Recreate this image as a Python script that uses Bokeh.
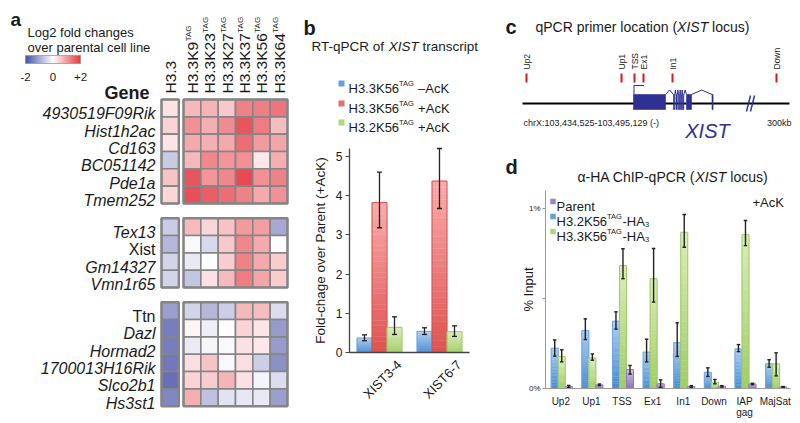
import math
import numpy as np
from bokeh.plotting import figure
from bokeh.models import Range1d, LinearColorMapper, FixedTicker, ColumnDataSource, LinearAxis
from bokeh.core.properties import value
from bokeh.embed import file_html
from bokeh.resources import INLINE

FONT = "Liberation Sans"
INK = "#1a1a1a"
NAVY = "#2e3192"

# ---------------- Panel a data ----------------
genes = ["4930519F09Rik", "Hist1h2ac", "Cd163", "BC051142", "Pde1a", "Tmem252",
         "Tex13", "Xist", "Gm14327", "Vmn1r65",
         "Ttn", "Dazl", "Hormad2", "1700013H16Rik", "Slco2b1", "Hs3st1"]
gene_group = [0, 0, 0, 0, 0, 0, 1, 1, 1, 1, 2, 2, 2, 2, 2, 2]
gene_italic = [True, True, True, True, True, True, True, False, True, True,
               False, True, True, True, True, True]
col_names = ["H3.3", "H3.3K9", "H3.3K23", "H3.3K27", "H3.3K37", "H3.3K56", "H3.3K64"]
col_sups = ["", "TAG", "TAG", "TAG", "TAG", "TAG", "TAG"]
h33 = [0.24, 0.39, 0.23, -0.51, 0.52, 0.35, -0.50, -0.70, -0.42, -0.42, -0.93, -1.26, -1.26, -1.30, -1.40, -1.16]
k9 = [0.61, 0.96, 0.74, 0.61, 1.48, 1.52, 0.60, -0.05, -0.21, -0.56, -0.42, 0.09, -0.19, 0.29, 0.39, 0.70]
k23 = [0.65, 0.70, 0.70, 1.04, 0.91, 1.39, 0.35, -0.37, -0.03, 0.26, -0.70, -0.16, -0.09, 0.52, 0.43, -0.60]
k27 = [0.48, 1.00, 0.74, 0.91, 1.04, 1.26, 0.52, 0.48, 0.43, 0.60, -0.47, 0.00, -0.05, -0.05, 0.65, -0.28]
k37 = [1.09, 1.48, 1.26, 0.96, 1.57, 1.09, 0.87, 1.04, 1.09, 1.13, 0.61, 0.39, 0.26, 0.29, 0.26, -0.23]
k56 = [1.10, 1.13, 0.87, 0.20, 0.96, 0.74, 0.83, 0.74, 0.74, 0.78, 0.57, 0.22, 0.20, -0.47, -0.10, -0.21]
k64 = [1.20, 0.57, 0.78, 0.70, 1.09, 0.96, -0.84, -0.02, 0.43, 0.43, -0.33, -0.98, -0.98, -1.07, -0.33, -0.93]
scale_ticks = [-2, 0, 2]
scale_labels = ["-2", "0", "+2"]

# ---------------- Panel b data ----------------
b_cats = ["XIST3-4", "XIST6-7"]
b_series_main = ["H3.3K56", "H3.3K56", "H3.2K56"]
b_series_tail = [" \u2013AcK", " +AcK", " +AcK"]
b_minus_mean = [0.37, 0.54]
b_minus_lo = [0.30, 0.46]
b_minus_hi = [0.45, 0.63]
b_h33_mean = [3.82, 4.37]
b_h33_lo = [3.18, 3.67]
b_h33_hi = [4.60, 5.20]
b_h32_mean = [0.64, 0.53]
b_h32_lo = [0.46, 0.41]
b_h32_hi = [0.91, 0.68]
b_yticks = [0, 1, 2, 3, 4, 5]

# ---------------- Panel c data ----------------
primer_names = ["Up2", "Up1", "TSS", "Ex1", "In1", "Down"]
primer_pos = [526, 621, 634, 643, 672, 776]
locus_start, locus_end = 522, 789
exon_starts = [633, 673, 675.5, 678, 680, 682, 686, 711.5]
exon_ends = [665, 674.3, 676.8, 679.3, 681.3, 683.3, 691, 712.6]

# ---------------- Panel d data ----------------
d_cats = ["Up2", "Up1", "TSS", "Ex1", "In1", "Down", "IAP\ngag", "MajSat"]
d_h32_mean = [0.224, 0.322, 0.374, 0.202, 0.254, 0.090, 0.220, 0.137]
d_h32_lo = [0.180, 0.272, 0.330, 0.148, 0.178, 0.067, 0.205, 0.118]
d_h32_hi = [0.270, 0.387, 0.426, 0.274, 0.365, 0.115, 0.244, 0.160]
d_h33_mean = [0.178, 0.170, 0.683, 0.610, 0.868, 0.035, 0.855, 0.137]
d_h33_lo = [0.148, 0.157, 0.610, 0.480, 0.785, 0.026, 0.794, 0.070]
d_h33_hi = [0.215, 0.192, 0.776, 0.778, 0.967, 0.050, 0.933, 0.198]
d_par_mean = [0.010, 0.020, 0.105, 0.026, 0.011, 0.012, 0.025, 0.008]
d_par_lo = [0.005, 0.016, 0.080, 0.007, 0.006, 0.008, 0.021, 0.005]
d_par_hi = [0.017, 0.025, 0.128, 0.048, 0.016, 0.016, 0.029, 0.011]
d_yticks = [0, 0.5, 1]
d_ylabels = ["0%", " ", "1%"]

# ---------------- helpers ----------------
_W = {c: 556 for c in "0123456789"}
_W.update({' ': 278, '-': 333, '.': 278, ',': 278, ':': 278, '(': 333, ')': 333, '+': 584, '%': 889,
           '\u2013': 556, '\u03b1': 580,
           'A': 667, 'B': 667, 'C': 722, 'D': 722, 'E': 667, 'F': 611, 'G': 778, 'H': 722, 'I': 278,
           'J': 500, 'K': 667, 'L': 556, 'M': 833, 'N': 722, 'O': 778, 'P': 667, 'Q': 778, 'R': 722,
           'S': 667, 'T': 611, 'U': 722, 'V': 667, 'W': 944, 'X': 667, 'Y': 667, 'Z': 611,
           'a': 556, 'b': 556, 'c': 500, 'd': 556, 'e': 556, 'f': 278, 'g': 556, 'h': 556, 'i': 222,
           'j': 222, 'k': 500, 'l': 222, 'm': 833, 'n': 556, 'o': 556, 'p': 556, 'q': 556, 'r': 333,
           's': 500, 't': 278, 'u': 556, 'v': 500, 'w': 722, 'x': 500, 'y': 500, 'z': 500})


def tw(s, size):
    return sum(_W.get(c, 556) for c in s) * size / 1000.0


def mix(c1, c2, f):
    return "#%02x%02x%02x" % tuple(int(round(a + (b - a) * f)) for a, b in zip(c1, c2))


# One canvas in page pixels (y negated); panels b and d get their own value scales.
W_PAGE0, W_PAGE1, H_PAGE0, H_PAGE1 = 0, 800, 0, 423
p = figure(width=W_PAGE1 - W_PAGE0, height=H_PAGE1 - H_PAGE0,
           x_range=Range1d(W_PAGE0, W_PAGE1), y_range=Range1d(-H_PAGE1, -H_PAGE0),
           output_backend="svg", toolbar_location=None, min_border=0,
           x_axis_location=None, y_axis_location=None)
p.outline_line_color = None
p.grid.visible = False

B_X0, B_PX = 349.0, 60.0
B_Y0, B_PY = 352.0, 204.0 / 5.2
D_X0, D_PX = 545.0, 245.0 / 8
D_Y0, D_PY = 388.0, 180.0
p.extra_x_ranges = {
    "bx": Range1d((W_PAGE0 - B_X0) / B_PX, (W_PAGE1 - B_X0) / B_PX),
    "dx": Range1d((W_PAGE0 - D_X0) / D_PX, (W_PAGE1 - D_X0) / D_PX)}
p.extra_y_ranges = {
    "by": Range1d((B_Y0 - H_PAGE1) / B_PY, (B_Y0 - H_PAGE0) / B_PY),
    "dy": Range1d((D_Y0 - H_PAGE1) / D_PY, (D_Y0 - H_PAGE0) / D_PY)}


def txt(x, y, s, size, style="normal", align="left", baseline="alphabetic", color=INK, angle=0.0):
    p.text(x=[x], y=[-y], text=[s], text_font=value(FONT), text_font_size=value("%.1fpx" % size),
           text_font_style=value(style), text_align=value(align), text_baseline=value(baseline),
           text_color=value(color), angle=angle)


def rich(x, y, parts, color=INK):
    for s, size, style, rise in parts:
        lead = len(s) - len(s.lstrip(" "))
        core = s.strip(" ")
        if core:
            txt(x + tw(" " * lead, size), y - rise, core, size, style, color=color)
        x += tw(s, size)


def grad_bars(xs, vals, width, c_bot, c_top, edge, xr, yr, n=28):
    X, B, T, C = [], [], [], []
    for x, v in zip(xs, vals):
        for k in range(n):
            X.append(x)
            B.append(v * k / n)
            T.append(v * (k + 1) / n)
            C.append(mix(c_bot, c_top, (k + 0.5) / n))
    p.vbar(x=X, bottom=B, top=T, width=width, fill_color=C, line_color=C, line_width=0.4,
           x_range_name=xr, y_range_name=yr)
    p.vbar(x=list(xs), bottom=0, top=list(vals), width=width, fill_color=None, line_color=edge,
           line_width=1, x_range_name=xr, y_range_name=yr)


def errbars(xs, lo, hi, cap, xr, yr, lw=1.3):
    p.segment(x0=list(xs), y0=list(lo), x1=list(xs), y1=list(hi), line_color="#222222", line_width=lw,
              x_range_name=xr, y_range_name=yr)
    p.scatter(x=list(xs) * 2, y=list(lo) + list(hi), marker="dash", size=cap, line_color="#222222",
              line_width=lw, x_range_name=xr, y_range_name=yr)


def style_axis(ax, size):
    ax.major_label_text_font = FONT
    ax.major_label_text_color = INK
    ax.major_label_text_font_size = size
    ax.minor_tick_line_color = None
    ax.axis_label_text_font = FONT
    ax.axis_label_text_font_style = "normal"
    ax.axis_label_text_color = INK


BLUE_B, BLUE_T, BLUE_E = (70, 140, 212), (170, 204, 240), (110, 165, 222)
RED_B, RED_T, RED_E = (222, 82, 78), (248, 172, 172), (214, 80, 80)
GRN_B, GRN_T, GRN_E = (160, 205, 100), (218, 237, 185), (160, 200, 110)
PUR_B, PUR_T, PUR_E = (135, 105, 185), (205, 190, 228), (150, 120, 190)

# ================= Panel a =================
BLUE_END, RED_END = (40, 50, 150), (225, 25, 35)
pal = [mix((255, 255, 255), BLUE_END, -v / 2) if v < 0 else mix((255, 255, 255), RED_END, v / 2)
       for v in np.linspace(-2, 2, 256)]
mapper = LinearColorMapper(palette=pal, low=-2, high=2)

CELL = 17.33
H33_X = 161.0
MAIN_X = 183.0
GROUP_TOP = [99.0, 217.7, 301.7]
cnt = {}
row_in_group = []
for g in gene_group:
    row_in_group.append(cnt.get(g, 0))
    cnt[g] = cnt.get(g, 0) + 1
row_y = [GROUP_TOP[g] + CELL * (r + 0.5) for g, r in zip(gene_group, row_in_group)]
col_x = [H33_X + CELL / 2] + [MAIN_X + CELL * (i + 0.5) for i in range(6)]
series = [h33, k9, k23, k27, k37, k56, k64]
cx, cy, cv = [], [], []
for ci, vals in enumerate(series):
    for ri, v in enumerate(vals):
        cx.append(col_x[ci])
        cy.append(-row_y[ri])
        cv.append(v)
p.rect(x="x", y="y", width=CELL, height=CELL, source=ColumnDataSource(dict(x=cx, y=cy, v=cv)),
       fill_color={"field": "v", "transform": mapper}, line_color="#858585", line_width=1.6)
bx, by, bw, bh = [], [], [], []
for g in range(3):
    n = cnt[g]
    yc = -(GROUP_TOP[g] + n * CELL / 2)
    bx += [H33_X + CELL / 2, MAIN_X + 3 * CELL]
    by += [yc, yc]
    bw += [CELL, 6 * CELL]
    bh += [n * CELL, n * CELL]
p.rect(x=bx, y=by, width=bw, height=bh, fill_color=None, line_color="#858585", line_width=2.4)

for name, y, it in zip(genes, row_y, gene_italic):
    txt(155, y + 5.7, name, 16, "italic" if it else "normal", align="right")
txt(149, 92, "Gene", 18, "bold", align="right")
for x, name, sup in zip(col_x, col_names, col_sups):
    txt(x + 0.5, 93, name, 15.5, align="left", baseline="middle", angle=math.pi / 2)
    if sup:
        txt(x - 3.5, 93 - tw(name, 15.5) - 0.5, sup, 8, align="left", baseline="middle",
            angle=math.pi / 2)

txt(10, 19, "a", 19, "bold")
txt(27, 32, "Log2 fold changes", 13)
txt(27, 46.5, "over parental cell line", 13)
NB = 110
sx0, sx1, sy0, sy1 = 25.0, 80.0, 55.0, 63.0
p.rect(x="x", y="y", width=(sx1 - sx0) / NB + 0.15, height=sy1 - sy0,
       source=ColumnDataSource(dict(x=[sx0 + (i + 0.5) * (sx1 - sx0) / NB for i in range(NB)],
                                    y=[-(sy0 + sy1) / 2] * NB, v=list(np.linspace(-2, 2, NB)))),
       fill_color={"field": "v", "transform": mapper}, line_color=None)
p.rect(x=[(sx0 + sx1) / 2], y=[-(sy0 + sy1) / 2], width=sx1 - sx0, height=sy1 - sy0,
       fill_color=None, line_color="#9a9a9a", line_width=0.8)
for t, lab in zip(scale_ticks, scale_labels):
    txt(sx0 + (t + 2) / 4 * (sx1 - sx0), 76, lab, 11.5, align="center")

# ================= Panel b =================
txt(303, 27, "b", 20, "bold")
rich(311, 46, [("RT-qPCR of ", 13.5, "normal", 0), ("XIST", 13.5, "italic", 0),
               (" transcript", 13.5, "normal", 0)])
leg_cols = [mix(BLUE_B, BLUE_T, 0.3), mix(RED_B, RED_T, 0.3), mix(GRN_B, GRN_T, 0.3)]
for i, (m, tail, c) in enumerate(zip(b_series_main, b_series_tail, leg_cols)):
    yy = [83, 103, 122][i]
    p.rect(x=[341], y=[-yy], width=6, height=6, fill_color=c, line_color=None)
    rich(348, yy + 4.7, [(m, 13, "normal", 0), ("TAG", 7.5, "normal", 5), (tail, 13, "normal", 0)])

BW = 0.25
for j, (mean, lo, hi, cb, ct, ce) in enumerate([
        (b_minus_mean, b_minus_lo, b_minus_hi, BLUE_B, BLUE_T, BLUE_E),
        (b_h33_mean, b_h33_lo, b_h33_hi, RED_B, RED_T, RED_E),
        (b_h32_mean, b_h32_lo, b_h32_hi, GRN_B, GRN_T, GRN_E)]):
    xs = [i + 0.5 + (j - 1) * BW for i in range(len(b_cats))]
    grad_bars(xs, mean, BW, cb, ct, ce, "bx", "by")
    errbars(xs, lo, hi, 5, "bx", "by")

# rotated labels: anchored a little right of each group centre so they sit centred under it
b_ticks = [i + 0.5 + 0.33 for i in range(len(b_cats))]
yb = LinearAxis(x_range_name="bx", y_range_name="by", fixed_location=0, bounds=(0, 5.2),
                ticker=FixedTicker(ticks=b_yticks), axis_label="Fold-chage over Parent (+AcK)")
style_axis(yb, "12px")
yb.axis_label_text_font_size = "13.5px"
yb.axis_label_standoff = 5
yb.major_tick_out = 4
yb.major_tick_in = 0
yb.major_label_standoff = 3
yb.axis_line_color = "#444444"
yb.axis_line_width = 1.3
yb.major_tick_line_color = "#444444"
p.add_layout(yb, "left")
xb = LinearAxis(x_range_name="bx", y_range_name="by", fixed_location=0, bounds=(0, len(b_cats)),
                ticker=FixedTicker(ticks=b_ticks), major_label_overrides=dict(zip(b_ticks, b_cats)))
style_axis(xb, "13px")
xb.major_tick_line_color = None
xb.major_label_orientation = math.pi / 4
xb.major_label_standoff = 4
xb.axis_line_color = "#444444"
xb.axis_line_width = 1.3
p.add_layout(xb, "below")

# ================= Panel c =================
txt(505, 26, "c", 20, "bold")
rich(535, 26, [("qPCR primer location (", 14, "normal", 0), ("XIST", 14, "italic", 0),
               (" locus)", 14, "normal", 0)])
p.segment(x0=[locus_start], y0=[-103], x1=[locus_end], y1=[-103], line_color="black", line_width=2)
ne = len(exon_starts)
p.quad(left=exon_starts, right=exon_ends, top=[-94] * ne, bottom=[-109] * ne, fill_color=NAVY,
       line_color=NAVY, line_width=0.6)
ixs, iys = [], []
for a, b in zip(exon_ends[:-1], exon_starts[1:]):
    ixs.append([a, (a + b) / 2, b])
    iys.append([-94, -89.5, -94])
p.multi_line(ixs, iys, line_color=NAVY, line_width=1)
tss = exon_starts[0] + 0.5
p.line(x=[tss, tss, tss + 10], y=[-94, -85, -85], line_color=NAVY, line_width=1)
p.multi_line([[746, 750], [750, 754]], [[-111, -95], [-111, -95]], line_color=NAVY, line_width=1.4)
npm = len(primer_pos)
p.segment(x0=primer_pos, y0=[-73] * npm, x1=primer_pos, y1=[-82] * npm, line_color="#d7191c",
          line_width=2)
p.text(x=primer_pos, y=[-69] * npm, text=primer_names, angle=math.pi / 2, text_font=value(FONT),
       text_font_size=value("8.5px"), text_align="left", text_baseline="middle", text_color=INK)
txt(523, 122.5, "chrX:103,434,525-103,495,129 (-)", 9)
txt(791, 122.5, "300kb", 9, align="right")
txt(707, 130, "XIST", 20, "italic", align="center", color=NAVY)

# ================= Panel d =================
txt(505, 166, "d", 20, "bold")
rich(577, 176.5, [("\u03b1-HA ChIP-qPCR (", 14, "normal", 0), ("XIST", 14, "italic", 0),
                  (" locus)", 14, "normal", 0)])
DW = 0.229
for j, (mean, lo, hi, cb, ct, ce) in enumerate([
        (d_h32_mean, d_h32_lo, d_h32_hi, BLUE_B, BLUE_T, BLUE_E),
        (d_h33_mean, d_h33_lo, d_h33_hi, GRN_B, GRN_T, GRN_E),
        (d_par_mean, d_par_lo, d_par_hi, PUR_B, PUR_T, PUR_E)]):
    xs = [i + 0.53 + (j - 1) * DW for i in range(len(d_cats))]
    grad_bars(xs, mean, DW, cb, ct, ce, "dx", "dy")
    errbars(xs, lo, hi, 3.5, "dx", "dy", lw=1.4)

d_ticks = [i + 0.5 for i in range(len(d_cats))]
yd = LinearAxis(x_range_name="dx", y_range_name="dy", fixed_location=0, bounds=(0, 1.1),
                ticker=FixedTicker(ticks=d_yticks), major_label_overrides=dict(zip(d_yticks, d_ylabels)),
                axis_label="% Input")
style_axis(yd, "8px")
yd.axis_label_text_font_size = "13px"
yd.axis_label_standoff = -10
yd.major_tick_out = 3
yd.major_tick_in = 0
yd.major_label_standoff = 2
yd.axis_line_color = "#9a9a9a"
yd.major_tick_line_color = "#9a9a9a"
p.add_layout(yd, "left")
xd = LinearAxis(x_range_name="dx", y_range_name="dy", fixed_location=0, bounds=(0, len(d_cats)),
                ticker=FixedTicker(ticks=d_ticks), major_label_overrides=dict(zip(d_ticks, d_cats)))
style_axis(xd, "10px")
xd.major_tick_line_color = None
xd.major_label_standoff = 1
xd.major_label_text_line_height = 1.0
xd.axis_line_color = "#9a9a9a"
p.add_layout(xd, "below")

d_leg = [("Parent", mix(PUR_B, PUR_T, 0.3), []),
         ("H3.2K56", mix(BLUE_B, BLUE_T, 0.3), [("TAG", 7.5, "normal", 5), ("-HA", 13, "normal", 0),
                                                 ("3", 7.5, "normal", -3)]),
         ("H3.3K56", mix(GRN_B, GRN_T, 0.3), [("TAG", 7.5, "normal", 5), ("-HA", 13, "normal", 0),
                                                ("3", 7.5, "normal", -3)])]
for i, (m, c, rest) in enumerate(d_leg):
    yy = [201, 216, 231][i]
    p.rect(x=[552.5], y=[-yy], width=5.5, height=5.5, fill_color=c, line_color=None)
    rich(556, yy + 4.5, [(m, 13, "normal", 0)] + rest)
txt(752, 201.5, "+AcK", 13)

open("out.html", "w").write(file_html(p, INLINE))
